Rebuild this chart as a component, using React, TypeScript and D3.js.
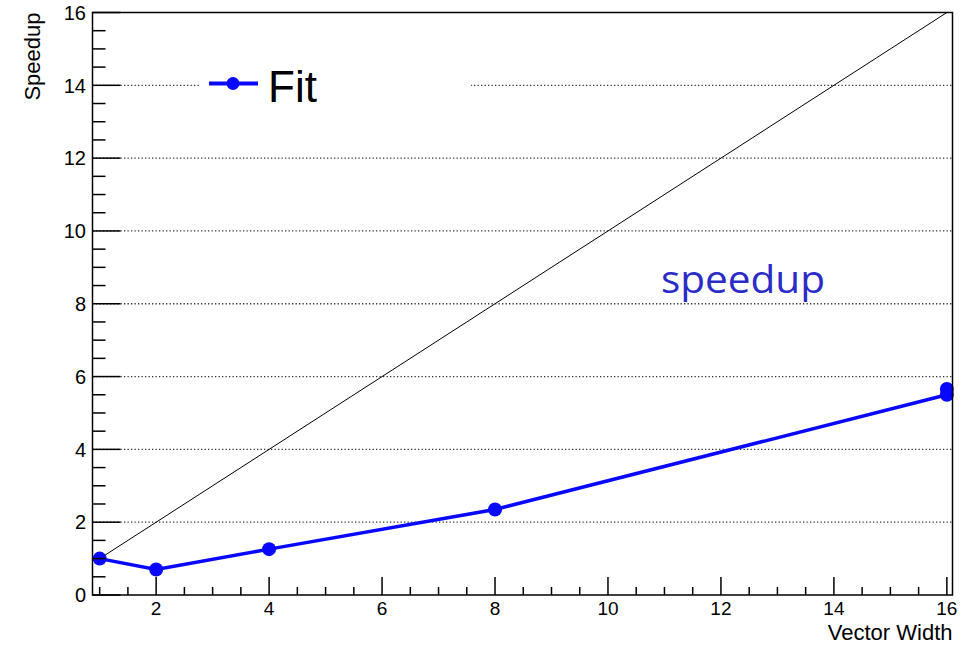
import React from "react";
import * as d3 from "d3";

const vectorWidth = [1, 2, 4, 8, 16];
const speedup = [1.0, 0.7, 1.26, 2.35, 5.5];
const extraX = [16];
const extraY = [5.66];
const idealX = [1, 16];
const yTicks = [0, 2, 4, 6, 8, 10, 12, 14, 16];
const xTicks = [2, 4, 6, 8, 10, 12, 14, 16];
const legendLabel = "Fit";
const annotation = "speedup";
const xTitle = "Vector Width";
const yTitle = "Speedup";

const W = 963, H = 649;
const L = 92.5, R = 952.5, T = 12.5, B = 595;

export default function App() {
  const x = d3.scaleLinear().domain([0.873, 16.1]).range([L, R]);
  const y = d3.scaleLinear().domain([0, 16]).range([B, T]);
  const line = d3.line<number>().x((_, i) => x(vectorWidth[i])).y((d) => y(d));
  const xMinor = d3.range(1, 16.01, 0.5).filter((v) => !xTicks.includes(v));
  const yMinor = d3.range(0.5, 16, 0.5).filter((v) => !yTicks.includes(v));
  const font = "'Liberation Sans', Arial, sans-serif";
  const blue = "#0808ff";
  return (
    <svg width={W} height={H} style={{ position: "absolute", left: 0, top: 0, background: "#fff" }}>
      <rect x={0} y={0} width={W} height={H} fill="#fff" />
      {yTicks.filter((v) => v > 0 && v < 16).map((v) => (
        <line key={"g" + v} x1={L} x2={R} y1={y(v)} y2={y(v)} stroke="#333" strokeWidth={1.3} strokeDasharray="1.3 2.2" />
      ))}
      <rect x={200} y={58} width={271} height={50} fill="#fff" />
      <line x1={x(idealX[0])} y1={y(idealX[0])} x2={x(idealX[1])} y2={y(idealX[1])} stroke="#000" strokeWidth={1} />
      <path d={line(speedup) || ""} fill="none" stroke={blue} strokeWidth={3.5} />
      {speedup.map((v, i) => (
        <circle key={"p" + i} cx={x(vectorWidth[i])} cy={y(v)} r={7} fill={blue} />
      ))}
      {extraY.map((v, i) => (
        <circle key={"e" + i} cx={x(extraX[i])} cy={y(v)} r={7} fill={blue} />
      ))}
      <rect x={L} y={T} width={R - L} height={B - T} fill="none" stroke="#000" strokeWidth={1.5} />
      {yTicks.map((v) => (
        <g key={"yt" + v}>
          <line x1={L} x2={L + 28} y1={y(v)} y2={y(v)} stroke="#000" strokeWidth={1.5} />
          <text x={86} y={y(v)} dy="0.36em" textAnchor="end" fontFamily={font} fontSize={20}>{v}</text>
        </g>
      ))}
      {yMinor.map((v) => (
        <line key={"ym" + v} x1={L} x2={L + 13} y1={y(v)} y2={y(v)} stroke="#000" strokeWidth={1.5} />
      ))}
      {xTicks.map((v) => (
        <g key={"xt" + v}>
          <line x1={x(v)} x2={x(v)} y1={B} y2={B - 18} stroke="#000" strokeWidth={1.5} />
          <text x={x(v)} y={615} textAnchor="middle" fontFamily={font} fontSize={19}>{v}</text>
        </g>
      ))}
      {xMinor.map((v) => (
        <line key={"xm" + v} x1={x(v)} x2={x(v)} y1={B} y2={B - 8} stroke="#000" strokeWidth={1.5} />
      ))}
      <text x={R} y={640} textAnchor="end" fontFamily={font} fontSize={22}>{xTitle}</text>
      <text transform={`translate(40, ${T}) rotate(-90)`} textAnchor="end" fontFamily={font} fontSize={22}>{yTitle}</text>
      <line x1={209} x2={258} y1={83.5} y2={83.5} stroke={blue} strokeWidth={4} />
      <circle cx={233} cy={83.5} r={6.5} fill={blue} />
      <text x={268} y={101.5} fontFamily={font} fontSize={44}>{legendLabel}</text>
      <text x={661} y={293} fontFamily="'Open Sans', sans-serif" fontSize={38} fill="#2b2bc8" textLength={164} lengthAdjust="spacingAndGlyphs">{annotation}</text>
    </svg>
  );
}
